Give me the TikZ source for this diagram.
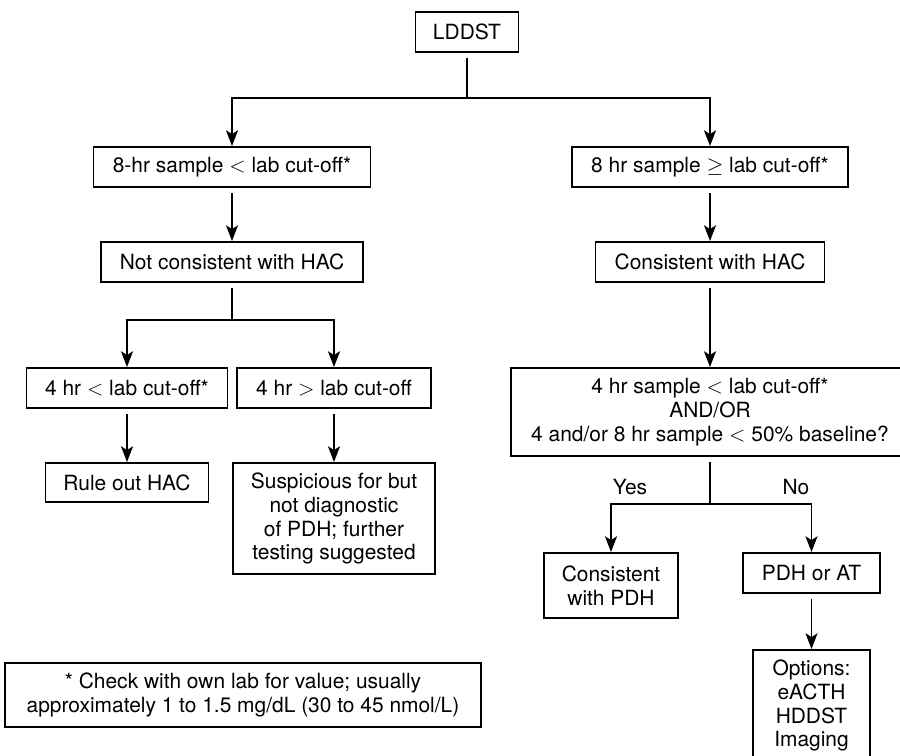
\documentclass[tikz,border=0pt]{standalone}
\usepackage{fontspec}
\setmainfont{TeX Gyre Heros}
\usepackage{amsmath, amssymb}
\usetikzlibrary{arrows.meta, positioning}

\begin{document}
\begin{tikzpicture}[
    x=0.0235cm, y=-0.0235cm,
    box/.style 2 args={draw, line width=1.3pt, align=center, inner sep=2pt,
        font=\fontsize{14}{16}\selectfont,
        minimum width=#1*0.0235 cm, minimum height=#2*0.0235 cm},
    answer/.style={font=\fontsize{14}{16}\selectfont},
    stem/.style={draw, line width=1.3pt, shorten <=0.12cm},
    branch/.style={draw, line width=1.3pt, -{Stealth[length=10.5pt, width=8pt, inset=2.5pt]}},
    flow/.style={branch, shorten <=0.12cm}
]
\path[use as bounding box, clip] (0,0) rectangle (900,756);

% Top of the tree
\node[box={103}{40}] (ldd) at (467,32) {LDDST};
\coordinate (split) at (467,98);

% 8 hr result, both sides
\node[box={277}{40}] (low8) at (232,167) {8-hr sample $<$ lab cut-off*};
\node[box={276}{40}] (high8) at (710,167) {8 hr sample $\geq$ lab cut-off*};

\node[box={262}{40}] (nothac) at (232,262) {Not consistent with HAC};
\node[box={229}{40}] (hac) at (710,262) {Consistent with HAC};

% Left branch
\coordinate (splitl) at (232,320);
\node[box={201}{40}] (low4) at (127,388) {4 hr $<$ lab cut-off*};
\node[box={194}{40}] (high4) at (334,388) {4 hr $>$ lab cut-off};
\node[box={163}{39}] (ruleout) at (127,482.5) {Rule out HAC};
\node[box={202}{111}] (suspect) at (334,518.5)
    {Suspicious for but\\not diagnostic\\of PDH; further\\testing suggested};

% Right branch
\node[box={398}{88}] (question) at (710,412)
    {4 hr sample $<$ lab cut-off*\\AND/OR\\4 and/or 8 hr sample $<$ 50\% baseline?};
\coordinate (splitr) at (710,504);
\node[answer] (yes) at (630,487) {Yes};
\node[answer] (no) at (796,487) {No};
\node[box={134}{65}] (pdh) at (611,585.5) {Consistent\\with PDH};
\node[box={137}{40}] (pdhat) at (811.5,573) {PDH or AT};
\node[box={117}{111}] (options) at (811.5,705.5) {Options:\\eACTH\\HDDST\\Imaging};

% Footnote
\node[box={476}{64}] (note) at (243,695)
    {* Check with own lab for value; usually\\approximately 1 to 1.5 mg/dL (30 to 45 nmol/L)};

% Connectors
\draw[stem] (ldd.south) -- (split);
\draw[branch] (split) -| (low8.north);
\draw[branch] (split) -| (high8.north);
\draw[flow] (low8) -- (nothac);
\draw[flow] (high8) -- (hac);
\draw[stem] (nothac.south) -- (splitl);
\draw[branch] (splitl) -| (low4.north);
\draw[branch] (splitl) -| (high4.north);
\draw[flow] (low4) -- (ruleout);
\draw[flow] (high4) -- (suspect);
\draw[flow] (hac) -- (question);
\draw[stem] (question.south) -- (splitr);
\draw[branch] (splitr) -| (pdh.north);
\draw[branch] (splitr) -| (pdhat.north);
\draw[flow] (pdhat) -- (options);
\end{tikzpicture}
\end{document}
